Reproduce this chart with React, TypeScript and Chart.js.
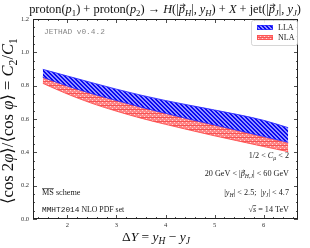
import React, { useEffect, useRef } from "react";
import { Chart, registerables } from "chart.js";

Chart.register(...registerables);

const deltaY = [1.5, 2, 2.5, 3, 3.5, 4, 4.5, 5, 5.5, 6, 6.5];
const llaUpper = [0.898, 0.858, 0.818, 0.779, 0.743, 0.711, 0.682, 0.654, 0.625, 0.592, 0.548];
const llaLower = [0.85, 0.798, 0.752, 0.711, 0.671, 0.634, 0.598, 0.564, 0.53, 0.495, 0.46];
const nlaUpper = [0.853, 0.801, 0.755, 0.714, 0.673, 0.635, 0.599, 0.563, 0.527, 0.491, 0.455];
const nlaLower = [0.814, 0.75, 0.694, 0.647, 0.605, 0.568, 0.533, 0.499, 0.467, 0.435, 0.404];
const yTicks = [0.0, 0.2, 0.4, 0.6, 0.8, 1.0, 1.2];
const xTicks = [2, 3, 4, 5, 6];
const legendLabels = ["LLA", "NLA"];

type Seg = { t: string; i?: boolean; s?: "sub" | "sup"; f?: string; o?: boolean; v?: boolean };

const SERIF = '"Liberation Serif", "DejaVu Serif", serif';
const MONO = '"Liberation Mono", "DejaVu Sans Mono", monospace';

function segFont(seg: Seg, size: number) {
  const sz = seg.s ? size * 0.7 : size;
  return `${seg.i ? "italic " : ""}${sz}px ${seg.f || SERIF}`;
}

function richWidth(ctx: CanvasRenderingContext2D, segs: Seg[], size: number) {
  let w = 0;
  for (const s of segs) {
    ctx.font = segFont(s, size);
    w += ctx.measureText(s.t).width;
  }
  return w;
}

function drawRich(
  ctx: CanvasRenderingContext2D,
  segs: Seg[],
  x: number,
  y: number,
  size: number,
  align: "left" | "center" | "right",
  color = "#222"
) {
  const w = richWidth(ctx, segs, size);
  let cx = align === "left" ? x : align === "center" ? x - w / 2 : x - w;
  ctx.save();
  ctx.textAlign = "left";
  ctx.textBaseline = "alphabetic";
  ctx.fillStyle = color;
  ctx.strokeStyle = color;
  for (const s of segs) {
    ctx.font = segFont(s, size);
    const dy = s.s === "sub" ? size * 0.22 : s.s === "sup" ? -size * 0.35 : 0;
    ctx.fillText(s.t, cx, y + dy);
    const sw = ctx.measureText(s.t).width;
    if (s.o) {
      ctx.lineWidth = 0.7;
      ctx.beginPath();
      ctx.moveTo(cx, y - size * 0.78);
      ctx.lineTo(cx + sw, y - size * 0.78);
      ctx.stroke();
    }
    if (s.v) {
      const ay = y - size * 0.62;
      const x0 = cx + sw * 0.2;
      const x1 = cx + sw * 1.05;
      const h = size * 0.13;
      ctx.lineWidth = Math.max(0.6, size * 0.06);
      ctx.beginPath();
      ctx.moveTo(x0, ay);
      ctx.lineTo(x1, ay);
      ctx.moveTo(x1 - h * 1.4, ay - h);
      ctx.lineTo(x1, ay);
      ctx.lineTo(x1 - h * 1.4, ay + h);
      ctx.stroke();
    }
    cx += sw;
  }
  ctx.restore();
  return w;
}

function makePattern(kind: "blue" | "red") {
  const c = document.createElement("canvas");
  c.width = 4;
  c.height = 4;
  const g = c.getContext("2d")!;
  if (kind === "blue") {
    g.fillStyle = "rgba(140,140,255,0.95)";
    g.fillRect(0, 0, 4, 4);
    g.fillStyle = "rgba(10,10,240,1)";
    for (let k = 0; k < 4; k++) {
      g.fillRect(k, k, 1, 1);
      g.fillRect((k + 1) % 4, k, 1, 1);
    }
  } else {
    g.fillStyle = "rgba(255,120,120,0.9)";
    g.fillRect(0, 0, 4, 4);
    g.fillStyle = "rgba(255,215,215,1)";
    g.fillRect(0, 0, 1, 1);
    g.fillRect(2, 2, 1, 1);
    g.fillStyle = "rgba(245,80,80,0.9)";
    g.fillRect(0, 1, 4, 1);
  }
  return g.createPattern(c, "repeat")!;
}

const decorPlugin = {
  id: "decor",
  afterDraw(chart: any) {
    const ctx: CanvasRenderingContext2D = chart.ctx;
    const { left, right, top, bottom } = chart.chartArea;
    const xs = chart.scales.x;
    const ys = chart.scales.y;
    ctx.save();
    ctx.strokeStyle = "#222";
    ctx.lineWidth = 1;
    ctx.strokeRect(left + 0.5, top + 0.5, right - left - 1, bottom - top - 1);
    ctx.lineWidth = 0.8;
    ctx.beginPath();
    for (let v = 0; v <= 1.2001; v += 0.05) {
      const p = Math.round(ys.getPixelForValue(v)) + 0.5;
      const major = Math.abs(v * 5 - Math.round(v * 5)) < 1e-6;
      const L = major ? 4 : 2;
      ctx.moveTo(left, p);
      ctx.lineTo(left + L, p);
      ctx.moveTo(right, p);
      ctx.lineTo(right - L, p);
    }
    for (let v = 1.4; v <= 6.7001; v += 0.2) {
      const p = Math.round(xs.getPixelForValue(v)) + 0.5;
      const major = Math.abs(v - Math.round(v)) < 1e-6;
      const L = major ? 4 : 2;
      ctx.moveTo(p, bottom);
      ctx.lineTo(p, bottom - L);
      ctx.moveTo(p, top);
      ctx.lineTo(p, top + L);
    }
    ctx.stroke();
    ctx.fillStyle = "#333";
    ctx.font = `6.5px ${SERIF}`;
    ctx.textAlign = "right";
    ctx.textBaseline = "middle";
    for (const v of yTicks) {
      ctx.fillText(v.toFixed(1), left - 4, ys.getPixelForValue(v));
    }
    ctx.textAlign = "center";
    ctx.textBaseline = "top";
    for (const v of xTicks) {
      ctx.fillText(String(v), xs.getPixelForValue(v), bottom + 3);
    }

    const title: Seg[] = [
      { t: "proton(" }, { t: "p", i: true }, { t: "1", s: "sub" }, { t: ") + proton(" },
      { t: "p", i: true }, { t: "2", s: "sub" }, { t: ") → " }, { t: "H", i: true },
      { t: "(|" }, { t: "p", i: true, v: true }, { t: "H", i: true, s: "sub" }, { t: "|, " },
      { t: "y", i: true }, { t: "H", i: true, s: "sub" }, { t: ") + " }, { t: "X", i: true },
      { t: " + jet(|" }, { t: "p", i: true, v: true }, { t: "J", i: true, s: "sub" }, { t: "|, " },
      { t: "y", i: true }, { t: "J", i: true, s: "sub" }, { t: ")" },
    ];
    let ts = 11;
    const tw = richWidth(ctx, title, ts);
    ts = ts * 272 / tw;
    drawRich(ctx, title, 165, 13, ts, "center", "#111");

    const ylab: Seg[] = [
      { t: "⟨cos 2" }, { t: "φ", i: true }, { t: "⟩/⟨cos " }, { t: "φ", i: true },
      { t: "⟩ = " }, { t: "C", i: true }, { t: "2", s: "sub" }, { t: "/" },
      { t: "C", i: true }, { t: "1", s: "sub" },
    ];
    ctx.save();
    ctx.translate(13, 121);
    ctx.rotate(-Math.PI / 2);
    let ysz = 13;
    const yw = richWidth(ctx, ylab, ysz);
    ysz = ysz * 166 / yw;
    drawRich(ctx, ylab, 0, 0, ysz, "center", "#111");
    ctx.restore();

    const xlab: Seg[] = [
      { t: "Δ" }, { t: "Y", i: true }, { t: " = " }, { t: "y", i: true },
      { t: "H", i: true, s: "sub" }, { t: " − " }, { t: "y", i: true }, { t: "J", i: true, s: "sub" },
    ];
    drawRich(ctx, xlab, 156, 241, 13.5, "center", "#111");

    ctx.font = `7.8px ${MONO}`;
    ctx.fillStyle = "#888";
    ctx.textAlign = "left";
    ctx.textBaseline = "middle";
    ctx.fillText("JETHAD v0.4.2", 44, 32);

    const a = 8.2;
    drawRich(ctx, [{ t: "1/2 < " }, { t: "C", i: true }, { t: "μ", i: true, s: "sub" }, { t: " < 2" }], 289, 158, a, "right");
    drawRich(ctx, [{ t: "20 GeV < |" }, { t: "p", i: true, v: true }, { t: "H,J", i: true, s: "sub" }, { t: "| < 60 GeV" }], 289, 176, a, "right");
    drawRich(ctx, [{ t: "|" }, { t: "y", i: true }, { t: "H", i: true, s: "sub" }, { t: "| < 2.5;  |" }, { t: "y", i: true }, { t: "J", i: true, s: "sub" }, { t: "| < 4.7" }], 289, 195, a, "right");
    drawRich(ctx, [{ t: "√" }, { t: "s", i: true, o: true }, { t: " = 14 TeV" }], 289, 212, a, "right");

    drawRich(ctx, [{ t: "MS", o: true }, { t: " scheme" }], 42, 195, a, "left");
    drawRich(ctx, [{ t: "MMHT2014", f: MONO }, { t: " NLO PDF set" }], 42, 212, 7.8, "left");

    ctx.strokeStyle = "#ccc";
    ctx.lineWidth = 0.8;
    ctx.beginPath();
    (ctx as any).roundRect ? (ctx as any).roundRect(251.5, 20.5, 46, 25, 2) : ctx.rect(251.5, 20.5, 46, 25);
    ctx.fillStyle = "rgba(255,255,255,0.9)";
    ctx.fill();
    ctx.stroke();
    const sw = [
      { y: 25, pat: makePattern("blue"), edge: "rgba(40,40,255,0.9)" },
      { y: 35, pat: makePattern("red"), edge: "rgba(255,70,70,0.9)" },
    ];
    sw.forEach((s, k) => {
      ctx.fillStyle = s.pat;
      ctx.fillRect(257, s.y, 16, 5);
      ctx.strokeStyle = s.edge;
      ctx.lineWidth = 0.8;
      ctx.strokeRect(257.5, s.y + 0.5, 15, 4);
      ctx.fillStyle = "#222";
      ctx.font = `8px ${SERIF}`;
      ctx.textAlign = "left";
      ctx.textBaseline = "middle";
      ctx.fillText(legendLabels[k], 278, s.y + 3);
    });
    ctx.restore();
  },
};

export default function App() {
  const ref = useRef<HTMLCanvasElement | null>(null);
  useEffect(() => {
    document.body.style.margin = "0";
    const blue = makePattern("blue");
    const red = makePattern("red");
    const pts = (arr: number[]) => deltaY.map((x, i) => ({ x, y: arr[i] }));
    const common = { borderWidth: 1, pointRadius: 0, cubicInterpolationMode: "monotone" as const };
    const chart = new Chart(ref.current!, {
      type: "line",
      data: {
        datasets: [
          { label: "LLA low", data: pts(llaLower), borderColor: "rgba(40,40,255,0.85)", fill: false, ...common },
          { label: "LLA", data: pts(llaUpper), borderColor: "rgba(40,40,255,0.85)", fill: "-1", backgroundColor: blue, ...common },
          { label: "NLA low", data: pts(nlaLower), borderColor: "rgba(255,70,70,0.85)", fill: false, ...common },
          { label: "NLA", data: pts(nlaUpper), borderColor: "rgba(255,70,70,0.85)", fill: "-1", backgroundColor: red, ...common },
        ],
      },
      options: {
        animation: false,
        responsive: false,
        maintainAspectRatio: false,
        layout: { padding: { top: 19, right: 12, left: 0, bottom: 0 } },
        plugins: { legend: { display: false }, tooltip: { enabled: false }, title: { display: false } },
        scales: {
          x: {
            type: "linear",
            min: 1.3,
            max: 6.7,
            grid: { display: false },
            border: { display: false },
            ticks: { display: false },
            afterFit: (s: any) => { s.height = 29; },
          },
          y: {
            type: "linear",
            min: 0,
            max: 1.2,
            grid: { display: false },
            border: { display: false },
            ticks: { display: false },
            afterFit: (s: any) => { s.width = 33; },
          },
        },
      },
      plugins: [decorPlugin],
    });
    return () => chart.destroy();
  }, []);
  return (
    <div style={{ width: 310, height: 248 }}>
      <canvas ref={ref} width={310} height={248} style={{ display: "block", width: 310, height: 248 }} />
    </div>
  );
}
